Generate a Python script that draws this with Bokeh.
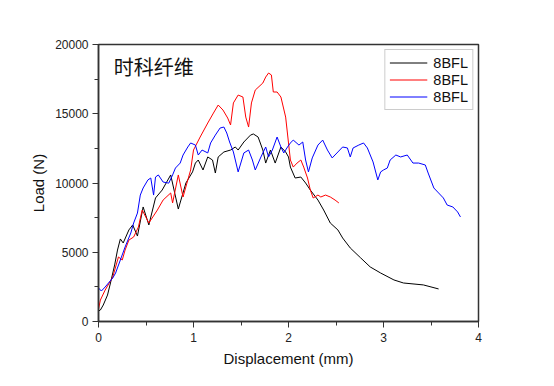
from bokeh.plotting import figure
from bokeh.models import Range1d, Legend, LegendItem, Label, FixedTicker
from bokeh.embed import file_html
from bokeh.resources import INLINE

# ---- data ----
black_x = [0, 0.02, 0.05, 0.095, 0.126, 0.17, 0.2, 0.23, 0.26, 0.32, 0.36, 0.41, 0.47, 0.53, 0.6, 0.67,
           0.76, 0.84, 0.92, 0.99, 1.02, 1.05, 1.1, 1.15, 1.2, 1.23, 1.26, 1.32, 1.39, 1.44, 1.47, 1.53,
           1.6, 1.63, 1.68, 1.73, 1.76, 1.81, 1.86, 1.92, 1.97, 2.0, 2.02, 2.07, 2.13, 2.18, 2.23, 2.31,
           2.37, 2.44, 2.52, 2.57, 2.65, 2.76, 2.86, 2.97, 3.11, 3.21, 3.42, 3.58]
black_y = [760, 830, 1190, 1910, 2780, 4080, 5160, 5960, 5670, 6610, 6970, 6170, 8270, 6970, 8920, 9490,
           10580, 8120, 10000, 10800, 11440, 11660, 10940, 11880, 11660, 10720, 11880, 12240, 12380, 12600, 12380, 12960,
           13460, 13540, 13320, 12380, 11440, 12380, 11440, 12600, 12240, 11880, 11150, 10360, 10430, 10000, 9490, 8770,
           8050, 7110, 6610, 6030, 5310, 4590, 3940, 3500, 3000, 2780, 2640, 2350]

red_x = [0, 0.02, 0.07, 0.15, 0.21, 0.25, 0.28, 0.32, 0.37, 0.42, 0.46, 0.53, 0.62, 0.68, 0.76, 0.78,
         0.84, 0.89, 0.94, 0.97, 1.0, 1.07, 1.15, 1.21, 1.26, 1.31, 1.36, 1.39, 1.42, 1.47, 1.52, 1.55,
         1.58, 1.61, 1.65, 1.73, 1.76, 1.79, 1.82, 1.84, 1.88, 1.92, 1.97, 2.0, 2.02, 2.05, 2.09, 2.13,
         2.16, 2.2, 2.23, 2.26, 2.31, 2.34, 2.39, 2.44, 2.49, 2.53]
red_y = [900, 1550, 2270, 3210, 4660, 4440, 5160, 5880, 6100, 6820, 8050, 7110, 8050, 8770, 9280, 8560,
         10580, 8990, 10220, 10940, 12380, 13320, 14330, 15050, 15630, 15270, 14690, 14190, 15780, 16350, 16210, 14760,
         14040, 15780, 16710, 17220, 17650, 17940, 17800, 16570, 16570, 16210, 14760, 12890, 11660, 11150, 11440, 11660,
         11150, 10360, 9490, 8920, 9130, 8990, 9130, 8990, 8770, 8560]

blue_x = [0, 0.03, 0.07, 0.105, 0.15, 0.18, 0.23, 0.28, 0.34, 0.37, 0.41, 0.44, 0.47, 0.52, 0.55, 0.58,
          0.6, 0.63, 0.68, 0.74, 0.78, 0.81, 0.86, 0.89, 0.94, 0.97, 1.02, 1.05, 1.09, 1.15, 1.18, 1.23,
          1.28, 1.32, 1.35, 1.38, 1.42, 1.47, 1.53, 1.58, 1.62, 1.65, 1.71, 1.76, 1.79, 1.83, 1.88, 1.92,
          1.95, 1.99, 2.02, 2.05, 2.11, 2.15, 2.18, 2.21, 2.25, 2.31, 2.36, 2.41, 2.46, 2.52, 2.57, 2.62,
          2.65, 2.68, 2.74, 2.79, 2.83, 2.89, 2.94, 2.97, 3.0, 3.04, 3.07, 3.13, 3.18, 3.25, 3.31, 3.37,
          3.44, 3.47, 3.53, 3.58, 3.63, 3.67, 3.73, 3.78, 3.81]
blue_y = [2420, 2200, 2490, 2780, 3140, 3500, 4440, 5380, 6390, 7110, 7830, 9130, 9640, 10220, 10360, 9130,
          10430, 10580, 10070, 9990, 10580, 11080, 11440, 12020, 12600, 12890, 12740, 12020, 12380, 12170, 12890, 13460,
          13970, 14040, 13610, 12960, 12240, 10800, 12170, 12380, 11660, 10940, 11880, 12600, 11880, 12380, 13320, 12600,
          12170, 12600, 12890, 13100, 12740, 12960, 11660, 10800, 11810, 12740, 13100, 12380, 11810, 12240, 12600, 12530,
          11880, 12530, 12740, 12890, 12530, 11520, 10220, 10800, 10940, 11080, 11660, 12020, 11880, 12020, 11440, 11440,
          11300, 10720, 9640, 9280, 8920, 8410, 8270, 7910, 7550]

series_names = ["8BFL", "8BFL", "8BFL"]
x_ticks = [0, 1, 2, 3, 4]
y_ticks = [0, 5000, 10000, 15000, 20000]
title_text = "时科纤维"

FONT = "Liberation Sans"

p = figure(width=536, height=378, output_backend="svg", toolbar_location=None,
           x_range=Range1d(0, 4), y_range=Range1d(0, 20000),
           min_border_left=98, min_border_right=58, min_border_top=44, min_border_bottom=57)
p.background_fill_color = "white"
p.border_fill_color = "white"
p.outline_line_color = "#333333"
p.outline_line_width = 1.5
p.xgrid.visible = False
p.ygrid.visible = False

for ax in (p.xaxis[0], p.yaxis[0]):
    ax.axis_line_color = "#333333"
    ax.axis_line_width = 1.5
    ax.major_tick_line_color = "#333333"
    ax.minor_tick_line_color = "#333333"
    ax.major_tick_in = 0
    ax.major_tick_out = 6
    ax.minor_tick_in = 0
    ax.minor_tick_out = 4
    ax.major_label_text_font = FONT
    ax.major_label_text_font_size = "12px"
    ax.major_label_text_color = "#222222"
    ax.axis_label_text_font = FONT
    ax.axis_label_text_font_size = "15px"
    ax.axis_label_text_font_style = "normal"
    ax.axis_label_text_color = "#111111"

p.xaxis[0].ticker = FixedTicker(ticks=x_ticks, minor_ticks=[0.5, 1.5, 2.5, 3.5])
p.yaxis[0].ticker = FixedTicker(ticks=y_ticks, minor_ticks=[2500, 7500, 12500, 17500])
p.yaxis[0].major_label_standoff = 4
p.xaxis[0].axis_label = "Displacement (mm)"
p.yaxis[0].axis_label = "Load (N)"

r1 = p.line(black_x, black_y, line_color="#000000", line_width=1)
r2 = p.line(red_x, red_y, line_color="#FF0000", line_width=1)
r3 = p.line(blue_x, blue_y, line_color="#0000FF", line_width=1)

legend = Legend(items=[LegendItem(label=series_names[0], renderers=[r1]),
                       LegendItem(label=series_names[1], renderers=[r2]),
                       LegendItem(label=series_names[2], renderers=[r3])],
                location="top_right")
legend.margin = 5
legend.padding = 4
legend.spacing = 0
legend.label_height = 17
legend.glyph_height = 17
legend.glyph_width = 38
legend.label_standoff = 6
legend.label_text_font = FONT
legend.label_text_font_size = "14.5px"
legend.label_text_color = "#111111"
legend.border_line_color = "#999999"
legend.border_line_width = 1
legend.background_fill_alpha = 1
p.add_layout(legend)

lbl = Label(x=0.16, y=18400, text=title_text, text_font="Noto Sans CJK SC",
            text_font_size="20px", text_baseline="middle", text_align="left", text_color="#111111")
p.add_layout(lbl)

open("out.html", "w").write(file_html(p, INLINE))
